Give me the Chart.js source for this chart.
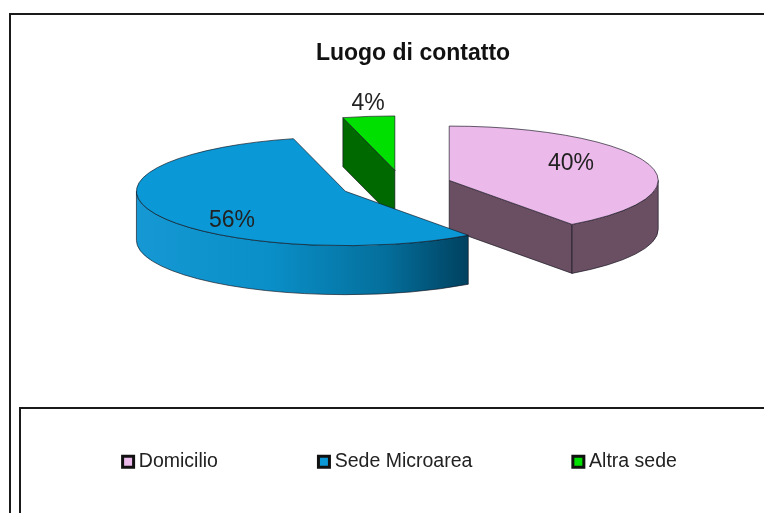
<!DOCTYPE html>
<html>
<head>
<meta charset="utf-8">
<script src="https://cdn.jsdelivr.net/npm/chart.js@4/dist/chart.umd.min.js"></script>
<style>
    html, body { margin: 0; padding: 0; background: #fff; }
    #wrap { width: 764px; height: 513px; }
</style>
</head>
<body>
<div id="wrap"><canvas id="pieGraph" width="764" height="513"></canvas></div>
<script>
const categories = ['Domicilio', 'Sede Microarea', 'Altra sede'];
const shares = [40, 56, 4];
const topColors = ['#ebb9ea', '#0a99d6', '#00e000'];
const wallColors = ['#6a4f63', '#0a99d6', '#006a00'];
const chartTitle = 'Luogo di contatto';

// 3d look, the library only gives the flat pie geometry
const pie3d = {
    id: 'pie3d',
    afterLayout: function (chart) {
        // title and legend do not sit on the page centre in the original
        chart.titleBlock.left += 31;
        chart.titleBlock.right += 31;
        chart.legend.left += 20;
        chart.legend.right += 20;
        chart.legend.top = 347;
    },
    beforeDraw: function (chart, args, opts) {
        const ctx = chart.ctx;
        ctx.save();
        ctx.strokeStyle = '#1a1a1a';
        ctx.lineWidth = 2;
        ctx.beginPath();
        ctx.moveTo(10, 513);
        ctx.lineTo(10, 14);
        ctx.lineTo(764, 14);
        ctx.moveTo(20, 513);
        ctx.lineTo(20, 408);
        ctx.lineTo(764, 408);
        ctx.stroke();
        ctx.restore();
    },
    beforeDatasetDraw: function () {
        return false;
    },
    afterDatasetsDraw: function (chart, args, opts) {
        const ctx = chart.ctx;
        const arcs = chart.getDatasetMeta(0).data;
        const k = opts.tilt;
        const depth = opts.depth;

        // back slice first, the big blue one overlaps the others
        opts.order.forEach(function (i) {
            const arc = arcs[i];
            const r = arc.outerRadius;
            const mid = (arc.startAngle + arc.endAngle) / 2;
            const cx = opts.centerX + Math.cos(mid) * opts.explode + opts.nudgeX[i];
            const cy = opts.centerY + Math.sin(mid) * opts.explode * k;
            const a0 = arc.startAngle;
            const a1 = arc.endAngle;

            ctx.save();
            ctx.lineWidth = 1;
            ctx.lineJoin = 'round';
            ctx.strokeStyle = 'rgba(20,20,30,0.65)';

            function wall(a) {
                const x = cx + Math.cos(a) * r;
                const y = cy + Math.sin(a) * r * k;
                ctx.beginPath();
                ctx.moveTo(cx, cy);
                ctx.lineTo(x, y);
                ctx.lineTo(x, y + depth);
                ctx.lineTo(cx, cy + depth);
                ctx.closePath();
                ctx.fillStyle = wallColors[i];
                ctx.fill();
                ctx.stroke();
            }
            if (-Math.cos(a0) > 1e-6) wall(a0);
            if (Math.cos(a1) > 1e-6) wall(a1);

            // rim, only the part of the arc on the front side
            for (let turn = 0; turn < 2; turn++) {
                const from = Math.max(a0, turn * 2 * Math.PI);
                const to = Math.min(a1, Math.PI + turn * 2 * Math.PI);
                if (to <= from) continue;
                const x0 = cx + Math.cos(from) * r;
                const y0 = cy + Math.sin(from) * r * k;
                const x1 = cx + Math.cos(to) * r;
                const y1 = cy + Math.sin(to) * r * k;
                ctx.beginPath();
                ctx.ellipse(cx, cy, r, r * k, 0, from, to);
                ctx.lineTo(x1, y1 + depth);
                ctx.ellipse(cx, cy + depth, r, r * k, 0, to, from, true);
                ctx.lineTo(x0, y0);
                ctx.closePath();
                if (i === opts.shadedSlice) {
                    const grad = ctx.createLinearGradient(cx - r, 0, x0, 0);
                    grad.addColorStop(0, '#1598d3');
                    grad.addColorStop(0.4, '#0a8fc8');
                    grad.addColorStop(0.75, '#046f9c');
                    grad.addColorStop(1, '#00415f');
                    ctx.fillStyle = grad;
                } else {
                    ctx.fillStyle = wallColors[i];
                }
                ctx.fill();
                ctx.stroke();
            }

            ctx.beginPath();
            ctx.moveTo(cx, cy);
            ctx.ellipse(cx, cy, r, r * k, 0, a0, a1);
            ctx.closePath();
            ctx.fillStyle = topColors[i];
            ctx.fill();
            ctx.stroke();
            ctx.restore();
        });

        ctx.save();
        ctx.font = opts.labelFont;
        ctx.fillStyle = '#222';
        ctx.textAlign = 'center';
        ctx.textBaseline = 'middle';
        shares.forEach(function (v, i) {
            ctx.fillText(v + '%', opts.labelAt[i][0], opts.labelAt[i][1]);
        });
        ctx.restore();
    }
};

new Chart(document.getElementById('pieGraph'), {
    type: 'pie',
    data: {
        labels: categories,
        datasets: [{
            data: shares,
            backgroundColor: topColors,
            borderColor: '#111',
            borderWidth: 3,
            radius: 209
        }]
    },
    plugins: [pie3d],
    options: {
        responsive: false,
        animation: false,
        layout: { padding: 0 },
        plugins: {
            tooltip: { enabled: false },
            title: {
                display: true,
                text: chartTitle,
                color: '#111',
                font: { family: '"Liberation Sans", Arial, sans-serif', size: 23, weight: 'bold' },
                padding: { top: 40, bottom: 10 }
            },
            legend: {
                position: 'bottom',
                labels: {
                    usePointStyle: true,
                    pointStyle: 'rect',
                    boxWidth: 2,
                    boxHeight: 11,
                    padding: 105,
                    color: '#222',
                    font: { family: '"Liberation Sans", Arial, sans-serif', size: 19.5 }
                }
            },
            pie3d: {
                tilt: 0.26,
                depth: 49,
                explode: 57,
                centerX: 395,
                centerY: 185,
                nudgeX: [0, 2, 7],
                order: [2, 0, 1],
                shadedSlice: 1,
                labelFont: '23px "Liberation Sans", Arial, sans-serif',
                labelAt: [[571, 164], [232, 221], [368, 104]]
            }
        }
    }
});
</script>
</body>
</html>
